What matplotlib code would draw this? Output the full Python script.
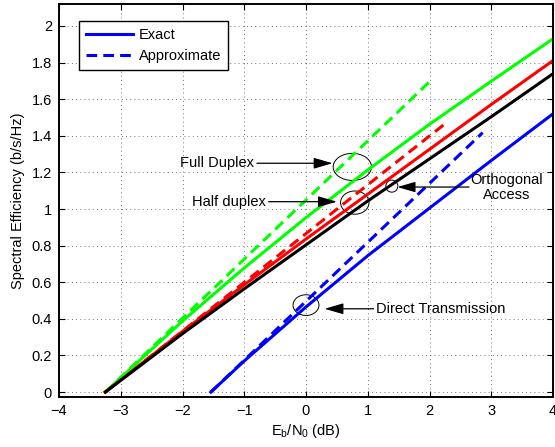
import numpy as np
import matplotlib
matplotlib.use("Agg")
from matplotlib import pyplot as plt
from matplotlib.patches import Ellipse

plt.rcParams['font.family'] = ['Liberation Sans', 'DejaVu Sans']
plt.rcParams['mathtext.fontset'] = 'custom'
plt.rcParams['mathtext.rm'] = 'Liberation Sans'
plt.rcParams['mathtext.it'] = 'Liberation Sans:italic'

# exact curves (Eb/N0 in dB, spectral efficiency in b/s/Hz)
full_x = [-3.25, -2, -1, 0, 1, 2, 3, 4]
full_y = [0.0, 0.388, 0.678, 0.953, 1.213, 1.463, 1.698, 1.93]
half_x = [-3.25, -2, -1, 0, 1, 2, 3, 4]
half_y = [0.0, 0.331, 0.586, 0.836, 1.081, 1.326, 1.571, 1.811]
orth_x = [-3.25, -2, -1, 0, 1, 2, 3, 4]
orth_y = [0.0, 0.319, 0.564, 0.804, 1.044, 1.274, 1.504, 1.739]
direct_x = [-1.54, -1, 0, 1, 2, 3, 4]
direct_y = [0.0, 0.17, 0.465, 0.745, 1.005, 1.265, 1.52]

# approximations (straight dashed lines)
full_apx_x = [-3.25, 2.03]
full_apx_y = [0.0, 1.705]
half_apx_x = [-3.25, 2.26]
half_apx_y = [0.0, 1.468]
direct_apx_x = [-1.54, 2.86]
direct_apx_y = [0.0, 1.417]

xticks = [-4, -3, -2, -1, 0, 1, 2, 3, 4]
yticks = [0, 0.2, 0.4, 0.6, 0.8, 1, 1.2, 1.4, 1.6, 1.8, 2]
yticklabels = ['0', '0.2', '0.4', '0.6', '0.8', '1', '1.2', '1.4', '1.6', '1.8', '2']

GREEN = '#00ff00'
RED = '#ff0000'
BLUE = '#0000ff'
DASH = (3.5, 2)
LW = 2.2

fig = plt.figure(figsize=(5.55, 4.47), dpi=100)
ax = fig.add_axes([59 / 555, 50 / 447, 494 / 555, 393 / 447])

ax.plot(full_apx_x, full_apx_y, color=GREEN, lw=LW, dashes=DASH)
ax.plot(half_apx_x, half_apx_y, color=RED, lw=LW, dashes=DASH)
ax.plot(direct_apx_x, direct_apx_y, color=BLUE, lw=LW, dashes=DASH)
ax.plot(full_x, full_y, color=GREEN, lw=LW)
ax.plot(half_x, half_y, color=RED, lw=LW)
ax.plot(orth_x, orth_y, color='black', lw=LW)
ax.plot(direct_x, direct_y, color=BLUE, lw=LW)

ax.set_xlim(-4, 4)
ax.set_ylim(-0.027, 2.12)
ax.set_xticks(xticks)
ax.set_xticklabels([str(t).replace('-', '\u2212') for t in xticks])
ax.set_yticks(yticks)
ax.set_yticklabels(yticklabels)
ax.tick_params(direction='in', length=4, width=0.8, top=True, right=True,
               labelsize=10.5, pad=5)
for sp in ax.spines.values():
    sp.set_linewidth(1.4)
ax.grid(True, color='black', linestyle=(0, (1, 4)), linewidth=0.6, alpha=0.7)

ax.set_xlabel(r'$\mathregular{E_b/N_0}$ (dB)', fontsize=10.5, labelpad=3)
ax.set_ylabel('Spectral Efficiency (b/s/Hz)', fontsize=10.5, labelpad=5)

# legend
h1, = ax.plot([], [], color=BLUE, lw=LW)
h2, = ax.plot([], [], color=BLUE, lw=LW, dashes=DASH)
leg = ax.legend([h1, h2], ['Exact', 'Approximate'], loc='upper left',
                bbox_to_anchor=(20 / 494, 1 - 17 / 393), borderaxespad=0,
                fancybox=False, framealpha=1, edgecolor='black',
                fontsize=10.5, handlelength=3.2, handletextpad=0.4,
                labelspacing=0.45, borderpad=0.5)
leg.get_frame().set_linewidth(1.0)

# ellipses marking the curves
for cx, cy, w, h in [(0.75, 1.23, 0.62, 0.148), (0.79, 1.035, 0.46, 0.127),
                     (1.39, 1.125, 0.195, 0.066), (0.0, 0.475, 0.42, 0.113)]:
    ax.add_patch(Ellipse((cx, cy), w, h, fill=False, edgecolor='black', lw=0.7))

arrow = dict(arrowstyle='-|>,head_length=1.1,head_width=0.32', color='black',
             lw=0.9, shrinkA=0, shrinkB=0)
ax.annotate('Full Duplex', xy=(0.43, 1.25), xytext=(-0.84, 1.25),
            ha='right', va='center', fontsize=10.5, arrowprops=arrow)
ax.annotate('Half duplex', xy=(0.5, 1.04), xytext=(-0.65, 1.04),
            ha='right', va='center', fontsize=10.5, arrowprops=arrow)
ax.annotate('', xy=(1.48, 1.12), xytext=(2.64, 1.12), arrowprops=arrow)
ax.text(3.25, 1.118, 'Orthogonal\nAccess', ha='center', va='center',
        fontsize=10.5, linespacing=1.1)
ax.annotate('Direct Transmission', xy=(0.3, 0.455), xytext=(1.14, 0.455),
            ha='left', va='center', fontsize=10.5, arrowprops=arrow)

fig.savefig('out.png', dpi=100)
